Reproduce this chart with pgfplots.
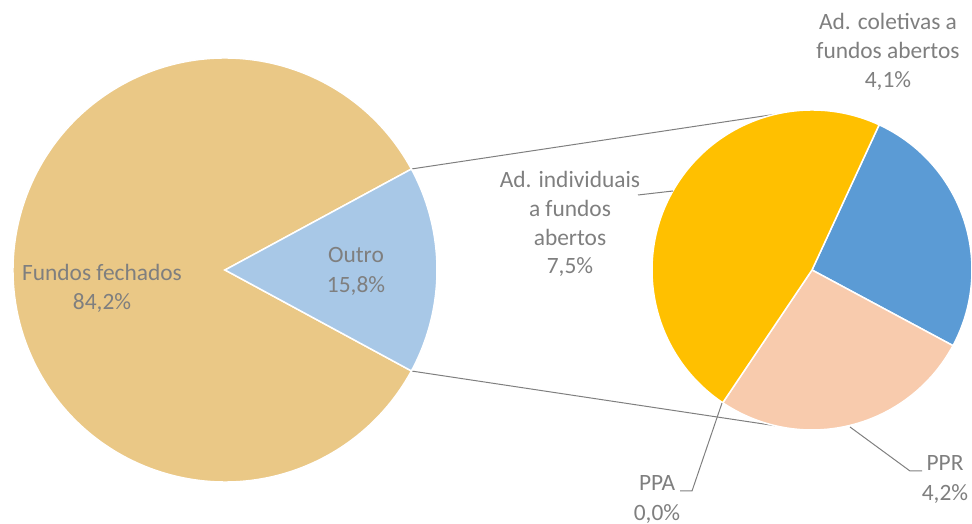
\documentclass[border=0pt]{standalone}
\usepackage{pgfplots}
\pgfplotsset{compat=1.18}
\usepackage{fontspec}
\setmainfont{Carlito}
\definecolor{cFech}{HTML}{EAC886}
\definecolor{cOut}{HTML}{A8C8E7}
\definecolor{cInd}{HTML}{FFC000}
\definecolor{cCol}{HTML}{5B9BD5}
\definecolor{cPPR}{HTML}{F8CBAD}
\definecolor{txt}{HTML}{7F7F7F}
\definecolor{ln}{HTML}{7F7F7F}
% data (percent of total)
\def\vFech{84.2}
\def\vOut{15.8}
\def\vCol{4.1}
\def\vInd{7.5}
\def\vPPR{4.2}
\def\vPPA{0.0}
\begin{document}
\begin{tikzpicture}
% angles
\pgfmathsetmacro\hOut{\vOut/(\vFech+\vOut)*360/2}
\pgfmathsetmacro\tot{\vCol+\vInd+\vPPR+\vPPA}
\pgfmathsetmacro\aS{65.2}
\pgfmathsetmacro\aA{\aS-\vCol/\tot*360}
\pgfmathsetmacro\aB{\aA-\vPPR/\tot*360}
\pgfmathsetmacro\aC{\aB-\vPPA/\tot*360}
\pgfmathsetmacro\aD{\aC-\vInd/\tot*360}
\begin{axis}[scale only axis, width=972bp, height=524bp,
  xmin=0, xmax=972, ymin=0, ymax=524, hide axis, clip=false]
% connector lines
\draw[ln, line width=1bp] (axis cs:411.4,355.0) -- (axis cs:775,409.7);
\draw[ln, line width=1bp] (axis cs:411.4,153.0) -- (axis cs:775,98.3);
% left pie
\filldraw[fill=cFech, draw=white, line width=1.5bp] (axis cs:225,254) -- ++(\hOut:212bp) arc[start angle=\hOut, end angle=360-\hOut, radius=212bp] -- cycle;
\filldraw[fill=cOut, draw=white, line width=1.5bp] (axis cs:225,254) -- ++(-\hOut:212bp) arc[start angle=-\hOut, end angle=\hOut, radius=212bp] -- cycle;
% right pie
\filldraw[fill=cCol, draw=white, line width=1.5bp] (axis cs:812,254) -- ++(\aS:160bp) arc[start angle=\aS, end angle=\aA, radius=160bp] -- cycle;
\filldraw[fill=cPPR, draw=white, line width=1.5bp] (axis cs:812,254) -- ++(\aA:160bp) arc[start angle=\aA, end angle=\aB, radius=160bp] -- cycle;
\filldraw[fill=cInd, draw=white, line width=1.5bp] (axis cs:812,254) -- ++(\aC:160bp) arc[start angle=\aC, end angle=\aD, radius=160bp] -- cycle;
% leader lines
\draw[ln, line width=1bp] (axis cs:638,329) -- (axis cs:673,333);
\draw[ln, line width=1bp] (axis cs:680,33) -- (axis cs:692,33) -- (axis cs:722,121);
\draw[ln, line width=1bp] (axis cs:922,53) -- (axis cs:910,53) -- (axis cs:850,97);
% labels
\begin{scope}[every node/.style={text=txt, anchor=base, inner sep=0pt, font=\fontsize{23.4bp}{28bp}\selectfont}]
\node at (axis cs:102,243) {Fundos fechados};
\node at (axis cs:102,214) {84,2\%};
\node at (axis cs:356,261) {Outro};
\node at (axis cs:356,231) {15,8\%};
\node at (axis cs:888,494) {Ad. coletivas a};
\node at (axis cs:888,465) {fundos abertos};
\node at (axis cs:888,436) {4,1\%};
\node at (axis cs:570,336) {Ad. individuais};
\node at (axis cs:570,307) {a fundos};
\node at (axis cs:570,278) {abertos};
\node at (axis cs:570,250) {7,5\%};
\node at (axis cs:657,33) {PPA};
\node at (axis cs:657,4) {0,0\%};
\node at (axis cs:945,53) {PPR};
\node at (axis cs:945,24) {4,2\%};
\end{scope}
\end{axis}
\pgfresetboundingbox
\path (current axis.south west) rectangle (current axis.north east);
\end{tikzpicture}
\end{document}
